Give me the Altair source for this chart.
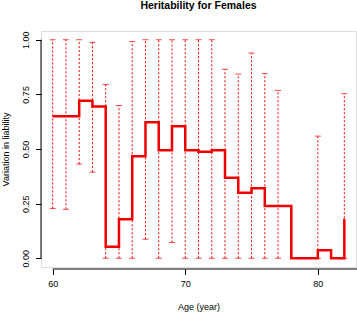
import altair as alt
import pandas as pd

# Heritability estimate by age (step line)
ages = list(range(60, 83))
herit = [0.650, 0.650, 0.721, 0.694, 0.053, 0.178, 0.467, 0.622, 0.494, 0.604,
         0.494, 0.487, 0.494, 0.368, 0.300, 0.320, 0.239, 0.239, 0.0, 0.0,
         0.037, 0.0, 0.181]

# Confidence intervals (dotted bars)
ci_ages = [60, 61, 62, 63, 64, 65, 66, 67, 68, 69, 70, 71, 72, 73, 74, 75, 76, 77, 80, 82]
ci_low = [0.228, 0.224, 0.431, 0.394, 0.0, 0.0, 0.0, 0.087, 0.0, 0.072,
          0.0, 0.0, 0.0, 0.0, 0.0, 0.0, 0.0, 0.0, 0.0, 0.0]
ci_high = [1.0, 1.0, 1.0, 0.988, 0.795, 0.699, 0.992, 1.0, 1.0, 1.0,
           1.0, 1.0, 1.0, 0.865, 0.843, 0.939, 0.845, 0.768, 0.559, 0.753]

x_ticks = [60, 70, 80]
y_ticks = [0.0, 0.25, 0.5, 0.75, 1.0]

line_df = pd.DataFrame({"age": ages, "h": herit})
ci_df = pd.DataFrame({"age": ci_ages, "lo": ci_low, "hi": ci_high})
yaxis_df = pd.DataFrame({"y0": [0.0], "y1": [1.0]})
xaxis_df = pd.DataFrame({"x0": [60.0]})

FONT = "Liberation Sans"
RED = "#ee0000"

xscale = alt.Scale(domain=[59.12, 82.88], nice=False, zero=False)
yscale = alt.Scale(domain=[-0.04, 1.04], nice=False, zero=False)

xaxis = alt.Axis(values=x_ticks, format="d", title="Age (year)", grid=False, domain=False,
                 tickSize=5.5, tickColor="black", offset=2, labelPadding=9,
                 labelBaseline="middle", labelFontSize=9, labelFont=FONT, labelColor="black",
                 titleFontSize=9, titleFont=FONT, titleFontWeight="normal", titleColor="black",
                 titleBaseline="middle", titleY=37.5)
yaxis = alt.Axis(values=y_ticks, format=".2f", title="Variation in liability", grid=False,
                 domain=False, tickSize=5.5, tickColor="black", labelPadding=7.3,
                 labelAngle=270, labelAlign="center", labelBaseline="alphabetic",
                 labelFontSize=9, labelFont=FONT, labelColor="black",
                 titleFontSize=9, titleFont=FONT, titleFontWeight="normal", titleColor="black",
                 titleAngle=270, titleBaseline="middle", titleX=-36, titleY=118)

bars = alt.Chart(ci_df).mark_rule(color=RED, strokeWidth=1, strokeDash=[2, 2]).encode(
    x=alt.X("age:Q", scale=xscale, axis=xaxis),
    y=alt.Y("lo:Q", scale=yscale, axis=yaxis),
    y2="hi:Q",
)
cap_hi = alt.Chart(ci_df).mark_tick(color=RED, orient="horizontal", size=6, thickness=1,
                                    strokeDash=[1.5, 1]).encode(
    x="age:Q", y="hi:Q")
cap_lo = alt.Chart(ci_df).mark_tick(color=RED, orient="horizontal", size=6, thickness=1,
                                    strokeDash=[1.5, 1]).encode(
    x="age:Q", y="lo:Q")
step = alt.Chart(line_df).mark_line(color=RED, strokeWidth=2.5, interpolate="step-after").encode(
    x="age:Q", y="h:Q")

yline = alt.Chart(yaxis_df).mark_rule(color="black", strokeWidth=1).encode(
    x=alt.value(0), y="y0:Q", y2="y1:Q")
xline = alt.Chart(xaxis_df).mark_rule(color="black", strokeWidth=1).encode(
    x="x0:Q", x2=alt.value(316), y=alt.value(238))

chart = alt.layer(bars, cap_hi, cap_lo, step, yline, xline).properties(
    width=315, height=236,
    padding={"left": 41, "top": 31, "right": 1, "bottom": 46},
    autosize=alt.AutoSizeParams(type="none"),
    title=alt.TitleParams("Heritability for Females", font=FONT, fontSize=10.5,
                          fontWeight="bold", color="black", anchor="middle",
                          frame="group", baseline="alphabetic", offset=11),
).configure_view(stroke=None).configure(background="white")

chart.save("out.html", embed_options={"renderer": "svg", "actions": False})
